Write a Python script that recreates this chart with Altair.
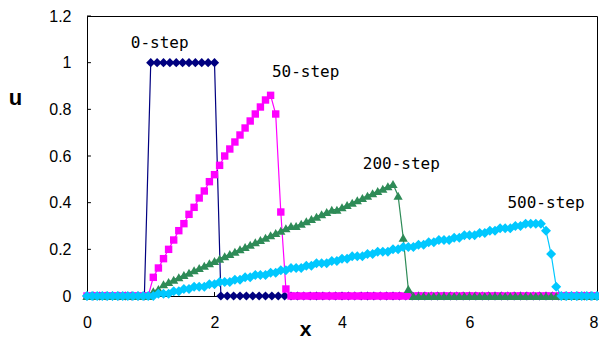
import altair as alt
import pandas as pd

# ---- sampling grids -------------------------------------------------------
x_step0 = [round(0.1 * k, 1) for k in range(81)]       # 0-step grid (0..8)
x_grid = [round(0.08 * k, 2) for k in range(101)]      # grid for the other steps

# ---- series values -------------------------------------------------------
u_0 = [0.0] * 10 + [1.0] * 11
u_0 = u_0 + [0.0] * (len(x_step0) - len(u_0))

u_50 = [0.0] * 13 + [
    0.08, 0.12, 0.16, 0.20, 0.24, 0.28, 0.31, 0.35, 0.38, 0.42, 0.45, 0.49,
    0.52, 0.56, 0.60, 0.63, 0.66, 0.69, 0.72, 0.75, 0.78, 0.81, 0.84, 0.86,
    0.78, 0.36, 0.03]
u_50 = u_50 + [0.0] * (len(x_grid) - len(u_50))

u_200 = [0.0] * 13 + [
    0.02, 0.03, 0.05, 0.06, 0.07, 0.08, 0.09, 0.10, 0.11, 0.12, 0.13, 0.14,
    0.15, 0.16, 0.17, 0.18, 0.19, 0.20, 0.21, 0.22, 0.23, 0.24, 0.25, 0.26,
    0.27, 0.28, 0.29, 0.30, 0.30, 0.31, 0.32, 0.33, 0.34, 0.35, 0.36, 0.37,
    0.37, 0.38, 0.39, 0.40, 0.41, 0.42, 0.43, 0.44, 0.45, 0.46, 0.47, 0.48,
    0.43, 0.25, 0.03]
u_200 = u_200 + [0.0] * (len(x_grid) - len(u_200))

u_500 = [0.0] * 13 + [
    0.00, 0.01, 0.01, 0.01, 0.02, 0.02, 0.03, 0.03, 0.04, 0.04, 0.04, 0.05,
    0.05, 0.06, 0.06, 0.06, 0.07, 0.07, 0.08, 0.08, 0.09, 0.09, 0.09, 0.10,
    0.10, 0.11, 0.11, 0.12, 0.12, 0.12, 0.13, 0.13, 0.14, 0.14, 0.14, 0.15,
    0.15, 0.16, 0.16, 0.17, 0.17, 0.17, 0.18, 0.18, 0.19, 0.19, 0.19, 0.20,
    0.20, 0.21, 0.21, 0.21, 0.22, 0.22, 0.23, 0.23, 0.24, 0.24, 0.24, 0.25,
    0.25, 0.26, 0.26, 0.26, 0.27, 0.27, 0.28, 0.28, 0.29, 0.29, 0.29, 0.30,
    0.30, 0.31, 0.31, 0.31, 0.31,
    0.28, 0.18, 0.04]
u_500 = u_500 + [0.0] * (len(x_grid) - len(u_500))

# ---- annotation labels ----------------------------------------------------
label_text = ["0-step", "50-step", "200-step", "500-step"]
label_x = [1.14, 3.43, 4.93, 7.2]
label_y = [1.086, 0.961, 0.567, 0.399]

# ---- axis ticks -----------------------------------------------------------
x_ticks = [0, 2, 4, 6, 8]
y_ticks = [0, 0.2, 0.4, 0.6, 0.8, 1.0, 1.2]

series = [
    ("0-step", x_step0, u_0, "#000080", "diamond", 85),
    ("50-step", x_grid, u_50, "#FF00FF", "square", 55),
    ("200-step", x_grid, u_200, "#2E8B57", "triangle-up", 85),
    ("500-step", x_grid, u_500, "#00C8FF", "diamond", 100),
]

xscale = alt.Scale(domain=[0, 8], nice=False, zero=False)
yscale = alt.Scale(domain=[0, 1.2], nice=False)

xaxis = alt.Axis(values=x_ticks, ticks=False, grid=False, domain=True,
                 domainColor="black", labelPadding=18, labelFontSize=16,
                 labelFont="Liberation Sans", labelColor="black",
                 labelFlush=False,
                 labelAlign={"condition": {"test": "datum.value === 8", "value": "right"},
                             "value": "center"},
                 labelOffset={"condition": {"test": "datum.value === 8", "value": 1},
                              "value": 0},
                 title="x", titleFont="Liberation Sans", titleFontSize=21,
                 titleFontWeight="bold", titleColor="black",
                 titleX=218, titleY=33, titleAnchor="start", titleAlign="center",
                 titleBaseline="middle")
yaxis = alt.Axis(values=y_ticks, ticks=False, grid=False, domain=True,
                 domainColor="black", labelPadding=16, labelFontSize=16,
                 labelFont="Liberation Sans", labelColor="black", format="~g",
                 title="u", titleFont="Liberation Sans", titleFontSize=22,
                 titleFontWeight="bold", titleColor="black", titleAngle=0,
                 titleX=-72, titleY=81, titleAlign="center",
                 titleBaseline="middle")

# inside tick marks
tick_rows = []
for v in y_ticks[1:]:
    tick_rows.append({"x": 0.0, "x2": 0.062, "y": v, "y2": v})
for v in x_ticks[1:-1]:
    tick_rows.append({"x": v, "x2": v, "y": 0.0, "y2": 0.017})
ticks = alt.Chart(pd.DataFrame(tick_rows)).mark_rule(
    color="black", strokeWidth=1).encode(
    x=alt.X("x:Q", scale=xscale, axis=xaxis),
    x2="x2:Q",
    y=alt.Y("y:Q", scale=yscale, axis=yaxis),
    y2="y2:Q",
)

layers = [ticks]
for name, xs, us, color, shape, size in series:
    df = pd.DataFrame({"x": xs, "u": us})
    base = alt.Chart(df).encode(
        x=alt.X("x:Q", scale=xscale, axis=xaxis),
        y=alt.Y("u:Q", scale=yscale, axis=yaxis),
    )
    line = base.mark_line(color=color, strokeWidth=1.2)
    pts = base.mark_point(shape=shape, filled=True, size=size, color=color,
                          opacity=1, strokeWidth=0)
    layers += [line, pts]

labels = alt.Chart(pd.DataFrame({"t": label_text, "x": label_x, "y": label_y})).mark_text(
    font="DejaVu Sans Mono", fontSize=16, color="black", align="center",
    baseline="middle").encode(
    x=alt.X("x:Q", scale=xscale, axis=xaxis),
    y=alt.Y("y:Q", scale=yscale, axis=yaxis),
    text="t:N",
)
layers.append(labels)

chart = alt.layer(*layers).properties(
    width=510, height=280,
    padding={"left": 79, "top": 8, "right": 2, "bottom": 43},
    autosize=alt.AutoSizeParams(type="none"),
    background="white",
).configure_view(stroke="black", strokeWidth=1)

chart.save("out.html", embed_options={"renderer": "svg", "actions": False})
